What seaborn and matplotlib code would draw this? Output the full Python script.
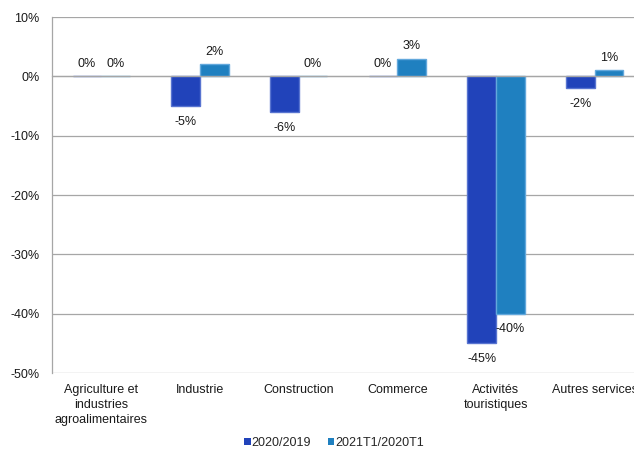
import matplotlib
matplotlib.use("Agg")
import matplotlib.pyplot as plt
import seaborn as sns
import pandas as pd
from matplotlib.ticker import FuncFormatter, FixedLocator

# Sectors, periods and year-on-year change (%)
secteurs = [
    "Agriculture et\nindustries\nagroalimentaires",
    "Industrie",
    "Construction",
    "Commerce",
    "Activités\ntouristiques",
    "Autres services",
]
periodes = ["2020/2019", "2021T1/2020T1"]
var_2020_2019 = [0, -5, -6, 0, -45, -2]
var_2021t1_2020t1 = [0, 2, 0, 3, -40, 1]
y_ticks = [10, 0, -10, -20, -30, -40, -50]

couleurs = ["#2143BA", "#1F80C0"]
contours = ["#5874D0", "#62A8DC"]
gris = "#A6A6A6"
texte = "#1a1a1a"
FS = 9

df = pd.DataFrame({
    "Secteur": secteurs * 2,
    "Période": [periodes[0]] * len(secteurs) + [periodes[1]] * len(secteurs),
    "Variation": var_2020_2019 + var_2021t1_2020t1,
})

sns.set_style("white")
plt.rcParams["font.family"] = ["Liberation Sans", "DejaVu Sans"]
plt.rcParams["font.size"] = FS

fig = plt.figure(figsize=(6.34, 4.51), dpi=100)
ax = fig.add_axes([52 / 634, 78 / 451, 592 / 634, 356 / 451])

sns.barplot(
    data=df, x="Secteur", y="Variation", hue="Période",
    order=secteurs, hue_order=periodes, palette=couleurs,
    width=0.58, gap=0, saturation=1, ax=ax,
)

# bar outlines and value labels
for cont, edge in zip(ax.containers, contours):
    for patch in cont.patches:
        patch.set_edgecolor(edge)
        patch.set_linewidth(1.0)
        v = patch.get_height()
        xc = patch.get_x() + patch.get_width() / 2
        if v >= 0:
            ax.annotate(f"{v:.0f}%", xy=(xc, v), xytext=(0, 4.5),
                        textcoords="offset points", ha="center", va="bottom",
                        fontsize=FS, color=texte)
        else:
            ax.annotate(f"{v:.0f}%", xy=(xc, v), xytext=(0, -7),
                        textcoords="offset points", ha="center", va="top",
                        fontsize=FS, color=texte)

ax.set_ylim(-50, 10)
ax.set_xlim(-0.5, len(secteurs) - 0.5)
ax.yaxis.set_major_locator(FixedLocator(y_ticks))
ax.yaxis.set_major_formatter(FuncFormatter(lambda v, _: f"{v:.0f}%"))
ax.grid(axis="y", color=gris, linewidth=0.9)
ax.grid(axis="x", visible=False)
ax.set_axisbelow(True)
ax.set_xlabel("")
ax.set_ylabel("")

for s in ("top", "right"):
    ax.spines[s].set_visible(False)
ax.spines["left"].set_color(gris)
ax.spines["left"].set_linewidth(0.9)
ax.spines["bottom"].set_position(("data", 0))
ax.spines["bottom"].set_color(gris)
ax.spines["bottom"].set_linewidth(0.9)

# category separators on the zero line
ax.set_xticks([i - 0.5 for i in range(len(secteurs) + 1)])
ax.set_xticklabels([""] * (len(secteurs) + 1))
ax.tick_params(axis="x", direction="out", length=3, color=gris, width=0.9)
ax.tick_params(axis="y", direction="out", length=3, color=gris, width=0.9,
               labelsize=FS, labelcolor=texte, pad=5.8)

# category names along the bottom edge
sec = ax.secondary_xaxis("bottom")
sec.set_xticks(range(len(secteurs)))
sec.set_xticklabels(secteurs, linespacing=1.33)
sec.tick_params(axis="x", length=0, pad=8, labelsize=FS, labelcolor=texte)
sec.spines["bottom"].set_visible(False)

handles, labels = ax.get_legend_handles_labels()
ax.get_legend().remove()
fig.legend(handles, labels, loc="center", bbox_to_anchor=(334 / 634, 1 - 443 / 451),
           ncol=2, frameon=False, fontsize=FS, handlelength=0.5, handleheight=0.5,
           handletextpad=0.1, columnspacing=1.3, borderaxespad=0)
for h in fig.legends[0].legend_handles:
    h.set_edgecolor("none")

fig.savefig("out.png", dpi=100)
